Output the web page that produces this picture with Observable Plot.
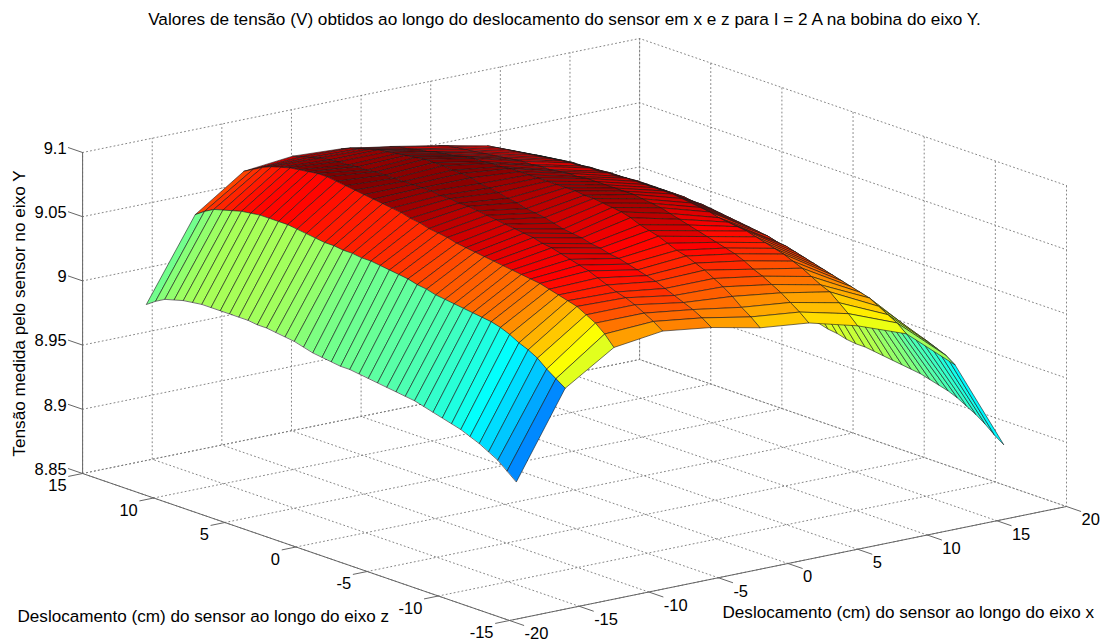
<!DOCTYPE html>
<html>
<head>
<meta charset="utf-8">
<script src="https://cdn.jsdelivr.net/npm/d3@7"></script>
<script src="https://cdn.jsdelivr.net/npm/@observablehq/plot@0.6"></script>
<style>html,body{margin:0;padding:0;background:#fff;overflow:hidden}svg{display:block}</style>
</head>
<body>
<div id="chart"></div>
<script>
const titleText = "Valores de tensão (V) obtidos ao longo do deslocamento do sensor em x e z para I = 2 A na bobina do eixo Y.";
const yLabel = "Tensão medida pelo sensor no eixo Y";
const zLabel = "Deslocamento (cm) do sensor ao longo do eixo z";
const xLabel = "Deslocamento (cm) do sensor ao longo do eixo x";

const xTicks = [-20,-15,-10,-5,0,5,10,15,20];
const zTicks = [-15,-10,-5,0,5,10,15];
const vTicks = [8.85,8.9,8.95,9,9.05,9.1];
const vTickLabels = ["8.85","8.9","8.95","9","9.05","9.1"];

const xStart = -19.5, xStep = 3.5, zStart = -15, zStep = 0.65;

const row0 = [8.957,8.963,8.969,8.973,8.977,8.980,8.983,8.985,8.987,8.989,8.991,8.993,8.994,8.995,8.996,8.997,8.998,8.999,9.000,9.000,9.001,9.002,9.003,9.005,9.007,9.008,9.009,9.010,9.010,9.011,9.011,9.011,9.011,9.011,9.011,9.010,9.009,9.007,9.005,9.001,8.996];
const row1 = [9.022,9.027,9.032,9.038,9.042,9.045,9.049,9.052,9.054,9.055,9.056,9.057,9.058,9.059,9.060,9.062,9.063,9.065,9.066,9.067,9.068,9.069,9.069,9.070,9.070,9.071,9.071,9.072,9.073,9.074,9.075,9.075,9.075,9.075,9.074,9.073,9.071,9.069,9.067,9.063,9.058];
const row2 = [9.046,9.054,9.060,9.064,9.068,9.070,9.072,9.074,9.076,9.077,9.078,9.079,9.080,9.081,9.082,9.083,9.084,9.085,9.087,9.088,9.089,9.091,9.092,9.094,9.095,9.096,9.097,9.098,9.099,9.100,9.101,9.102,9.102,9.101,9.100,9.099,9.097,9.095,9.092,9.088,9.084];
const row3 = [9.051,9.056,9.060,9.064,9.067,9.069,9.072,9.075,9.078,9.080,9.082,9.084,9.086,9.087,9.089,9.090,9.091,9.092,9.093,9.094,9.095,9.096,9.096,9.097,9.097,9.098,9.098,9.098,9.098,9.098,9.098,9.098,9.097,9.097,9.096,9.096,9.095,9.094,9.092,9.090,9.088];
const row4 = [9.046,9.051,9.055,9.058,9.061,9.064,9.067,9.069,9.071,9.073,9.075,9.076,9.078,9.079,9.081,9.082,9.083,9.085,9.087,9.088,9.089,9.091,9.092,9.094,9.095,9.096,9.098,9.099,9.099,9.100,9.100,9.100,9.099,9.098,9.097,9.096,9.095,9.093,9.091,9.089,9.086];
const row5 = [9.038,9.044,9.049,9.055,9.060,9.064,9.068,9.071,9.074,9.076,9.079,9.082,9.084,9.086,9.089,9.091,9.092,9.093,9.094,9.094,9.095,9.095,9.095,9.095,9.095,9.095,9.095,9.095,9.094,9.094,9.093,9.093,9.092,9.090,9.089,9.088,9.086,9.085,9.083,9.082,9.080];
const row6 = [9.034,9.040,9.045,9.050,9.054,9.058,9.061,9.065,9.068,9.070,9.072,9.074,9.076,9.078,9.080,9.082,9.084,9.085,9.086,9.087,9.087,9.087,9.087,9.087,9.087,9.086,9.086,9.085,9.084,9.084,9.083,9.083,9.082,9.081,9.080,9.079,9.078,9.077,9.076,9.075,9.073];
const row7 = [9.024,9.031,9.037,9.043,9.046,9.050,9.054,9.057,9.060,9.062,9.064,9.066,9.068,9.069,9.070,9.071,9.073,9.074,9.075,9.076,9.077,9.077,9.077,9.077,9.077,9.077,9.076,9.076,9.075,9.075,9.074,9.074,9.073,9.072,9.071,9.070,9.069,9.068,9.067,9.066,9.065];
const row8 = [9.010,9.016,9.020,9.024,9.028,9.030,9.032,9.034,9.036,9.038,9.040,9.042,9.044,9.046,9.047,9.049,9.050,9.051,9.052,9.053,9.054,9.055,9.056,9.056,9.057,9.057,9.057,9.057,9.057,9.057,9.056,9.056,9.056,9.055,9.055,9.054,9.054,9.053,9.052,9.051,9.050];
const row9 = [8.978,8.983,8.986,8.989,8.991,8.993,8.995,8.998,9.001,9.004,9.006,9.008,9.011,9.013,9.015,9.017,9.018,9.020,9.021,9.022,9.024,9.025,9.025,9.026,9.027,9.028,9.028,9.028,9.028,9.028,9.028,9.028,9.027,9.027,9.026,9.025,9.024,9.023,9.022,9.021,9.020];
const row10 = [8.908,8.913,8.919,8.924,8.928,8.932,8.935,8.937,8.939,8.941,8.942,8.943,8.944,8.945,8.946,8.947,8.947,8.948,8.950,8.951,8.953,8.954,8.955,8.955,8.956,8.956,8.957,8.957,8.957,8.957,8.957,8.957,8.956,8.956,8.955,8.955,8.954,8.953,8.952,8.951,8.950];
const rows = [row0,row1,row2,row3,row4,row5,row6,row7,row8,row9,row10];

const jetStops = [0,0.125,0.375,0.625,0.875,1];
const jetColors = ["#000080","#0000ff","#00ffff","#ffff00","#ff0000","#800000"];
const colorLow = 8.907, colorHigh = 9.1;

// Orthographic camera of the 3-D box: where the front corner falls and what one unit adds.
const camera = {ox:509, oy:620, xdx:13.925, xdy:-2.85, zdx:-14.23, zdy:-4.9, vdy:-1284, x0:-20, z0:-15, v0:8.85};
const px = (x,z) => camera.ox + (x-camera.x0)*camera.xdx + (z-camera.z0)*camera.zdx;
const py = (x,z,v) => camera.oy + (x-camera.x0)*camera.xdy + (z-camera.z0)*camera.zdy + (v-camera.v0)*camera.vdy;
const depth = (x,z,v) => 10.3*x + 17.8*z - 353*v;
const pt = (x,z,v,id,extra) => ({px:px(x,z), py:py(x,z,v), id, ...extra});

// Surface facets, painted far to near; each facet takes the colour of its first vertex.
const xs = rows.map((_,i)=>xStart+i*xStep);
const zs = rows[0].map((_,j)=>zStart+j*zStep);
const cells = [];
for (let i=0;i<xs.length-1;i++) for (let j=0;j<zs.length-1;j++) {
  const c = [[i,j],[i+1,j],[i+1,j+1],[i,j+1]];
  const d = d3.mean(c,([a,b])=>depth(xs[a],zs[b],rows[a][b]));
  cells.push({i,j,d,c});
}
cells.sort((a,b)=>d3.descending(a.d,b.d));
const facets = cells.flatMap((cell,k)=>cell.c.map(([a,b])=>
  pt(xs[a],zs[b],rows[a][b],k,{v:rows[cell.i][cell.j]})));

const xMin=-20,xMax=20,zMin=-15,zMax=15,vMin=8.85,vMax=9.1;
let gid=0;
const grid=[];
const poly=(arr,pts)=>{gid++;pts.forEach(p=>arr.push(pt(p[0],p[1],p[2],gid)));};
for(const v of vTicks) poly(grid,[[xMin,zMax,v],[xMax,zMax,v],[xMax,zMin,v]]);
for(const x of xTicks) poly(grid,[[x,zMin,vMin],[x,zMax,vMin],[x,zMax,vMax]]);
for(const z of zTicks) poly(grid,[[xMin,z,vMin],[xMax,z,vMin],[xMax,z,vMax]]);

const axes=[];
poly(axes,[[xMin,zMax,vMax],[xMin,zMax,vMin],[xMin,zMin,vMin],[xMax,zMin,vMin]]);
for(const v of vTicks) poly(axes,[[xMin,zMax,v],[xMin,zMax+1,v]]);
for(const z of zTicks) poly(axes,[[xMin,z,vMin],[xMin-1,z,vMin]]);
for(const x of xTicks) poly(axes,[[x,zMin,vMin],[x,zMin-1,vMin]]);

const font="Liberation Sans, Arial, sans-serif";
const tickSize=16.5;
const chart = Plot.plot({
  width:1101,height:641,margin:0,
  x:{domain:[0,1101],range:[0,1101],axis:null},
  y:{domain:[0,641],range:[0,641],axis:null},
  color:{type:"linear",domain:jetStops.map(t=>colorLow+t*(colorHigh-colorLow)),range:jetColors,clamp:true},
  style:{background:"white",fontFamily:font},
  marks:[
    Plot.line(grid,{x:"px",y:"py",z:"id",stroke:"#777",strokeWidth:0.9,strokeDasharray:"1,3"}),
    Plot.line(axes,{x:"px",y:"py",z:"id",stroke:"#666",strokeWidth:1}),
    Plot.line(facets,{x:"px",y:"py",z:"id",fill:"v",stroke:"#1a1a1a",strokeWidth:0.6,curve:"linear-closed"}),
    Plot.text(vTicks,{x:v=>px(xMin,zMax),y:v=>py(xMin,zMax,v),text:(v,i)=>vTickLabels[i],textAnchor:"end",dx:-16,dy:-4,fontSize:tickSize,fill:"black",fontFamily:font}),
    Plot.text(zTicks,{x:z=>px(xMin,z),y:z=>py(xMin,z,vMin),text:z=>String(z),textAnchor:"end",dx:-16,dy:12.5,fontSize:tickSize,fill:"black",fontFamily:font}),
    Plot.text(xTicks,{x:x=>px(x,zMin),y:x=>py(x,zMin,vMin),text:x=>String(x),textAnchor:"start",dx:15,dy:13.5,fontSize:tickSize,fill:"black",fontFamily:font}),
    Plot.text([titleText],{x:()=>564,y:()=>19,text:d=>d,textAnchor:"middle",fontSize:17.2,fill:"black",fontFamily:font}),
    Plot.text([yLabel],{x:()=>19,y:()=>313,text:d=>d,rotate:-90,textAnchor:"middle",fontSize:17.2,fill:"black",fontFamily:font}),
    Plot.text([zLabel],{x:()=>17,y:()=>616,text:d=>d,textAnchor:"start",fontSize:17.1,fill:"black",fontFamily:font}),
    Plot.text([xLabel],{x:()=>722,y:()=>612,text:d=>d,textAnchor:"start",fontSize:17.1,fill:"black",fontFamily:font})
  ]
});
document.getElementById("chart").appendChild(chart);
</script>
</body>
</html>
